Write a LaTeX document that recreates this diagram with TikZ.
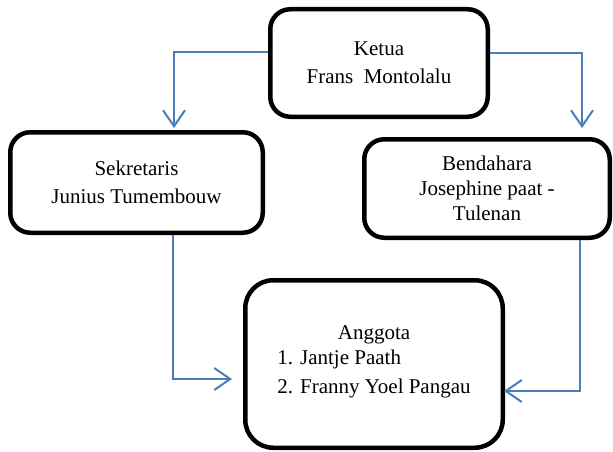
\documentclass[tikz,border=0pt]{standalone}
\usepackage{fontspec}
\setmainfont{Liberation Serif}
\usetikzlibrary{arrows.meta}
\definecolor{lineblue}{HTML}{4A7EBB}
\tikzstyle{blackbox} = [rectangle, rounded corners=20pt, draw=black, line width=4.5pt, fill=white, align=center, font=\fontsize{21}{28}\selectfont]
\tikzstyle{arrow} = [draw=lineblue, line width=2pt, -{Straight Barb[length=16pt,width=22pt,line width=2pt]}]

\begin{document}
\begin{tikzpicture}[x=1pt, y=-1pt]
      \useasboundingbox (0,0) rectangle (613,452);

      \node (ketua) [blackbox, minimum width=217.5pt, minimum height=107.5pt] at (379,63) {Ketua\\Frans\ \ Montolalu};
      \node (sekretaris) [blackbox, minimum width=252.5pt, minimum height=100.5pt] at (136.5,182.5) {Sekretaris\\Junius Tumembouw};
      \node (bendahara) [blackbox, minimum width=245.5pt, minimum height=98.5pt, font=\fontsize{21}{25}\selectfont] at (487,188.5) {Bendahara\\Josephine paat -\\Tulenan};
      \node (anggota) [blackbox, rounded corners=28pt, minimum width=257.5pt, minimum height=167.5pt] at (374,364)
            {Anggota\\\begin{tabular}{@{}l@{}}1. Jantje Paath\\[1pt]2. Franny Yoel Pangau\end{tabular}};

      \draw [arrow] ([yshift=11pt]ketua.west) -| ([xshift=37.5pt,yshift=2pt]sekretaris.north);
      \draw [arrow] ([yshift=10pt]ketua.east) -| ([xshift=95pt,yshift=9pt]bendahara.north);
      \draw [arrow] ([xshift=36.5pt]sekretaris.south) |- ([xshift=-11pt,yshift=-15pt]anggota.west);
      \draw [arrow] ([xshift=93pt]bendahara.south) |- ([xshift=-1pt,yshift=-27pt]anggota.east);
\end{tikzpicture}
\end{document}
